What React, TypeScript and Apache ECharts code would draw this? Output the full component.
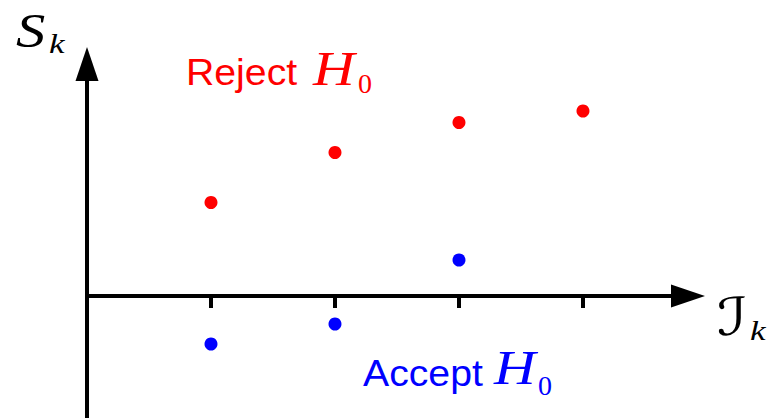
import React, { useEffect, useRef } from "react";
import * as echarts from "echarts";

// Stage index k (information level) and the test statistic at each look
const rejectX = [1, 2, 3, 4];
const rejectS = [1.87, 2.87, 3.47, 3.7];
const acceptX = [1, 2, 3];
const acceptS = [-0.96, -0.56, 0.72];
const tickValues = [1, 2, 3, 4];

const RED = "#ff0000";
const BLUE = "#0000ff";
const MATH = "'Liberation Serif', 'DejaVu Serif', serif";
const SANS = "'Liberation Sans', Arial, sans-serif";

type Txt = { text: string; x: number; y: number; font: string; fill: string; sx?: number };
const label = ({ text, x, y, font, fill, sx = 1 }: Txt) => ({
  type: "text",
  x,
  y,
  scaleX: sx,
  style: { text, font, fill, verticalAlign: "middle" },
});

export default function App() {
  const ref = useRef<HTMLDivElement>(null);

  useEffect(() => {
    document.body.style.margin = "0";
    const chart = echarts.init(ref.current!, null, { renderer: "svg" });
    const axisLine = {
      show: true,
      onZero: true,
      symbol: ["none", "triangle"],
      symbolSize: [23, 34],
      lineStyle: { color: "#000", width: 4 },
    };
    chart.setOption({
      animation: false,
      backgroundColor: "#fff",
      grid: { left: 87, right: 80, top: 64, bottom: 0, containLabel: false },
      xAxis: {
        type: "value",
        min: 0,
        max: 4.847,
        axisLine,
        axisTick: {
          show: true,
          customValues: tickValues,
          length: 12,
          lineStyle: { color: "#000", width: 4 },
        },
        axisLabel: { show: false },
        splitLine: { show: false },
      },
      yAxis: {
        type: "value",
        min: -2.44,
        max: 4.64,
        axisLine,
        axisTick: { show: false },
        axisLabel: { show: false },
        splitLine: { show: false },
      },
      series: [
        {
          type: "scatter",
          name: "Reject",
          symbolSize: 13,
          itemStyle: { color: RED, opacity: 1 },
          data: rejectX.map((x, i) => [x, rejectS[i]]),
        },
        {
          type: "scatter",
          name: "Accept",
          symbolSize: 13,
          itemStyle: { color: BLUE, opacity: 1 },
          data: acceptX.map((x, i) => [x, acceptS[i]]),
        },
      ],
      graphic: [
        // y-axis label S_k
        label({ text: "S", x: 16, y: 31, font: `italic 48px ${MATH}`, fill: "#000", sx: 1.22 }),
        label({ text: "k", x: 49, y: 44, font: `italic 27px ${MATH}`, fill: "#000", sx: 1.3 }),
        // x-axis label ℐ_k
        label({ text: "\u2110", x: 717, y: 317, font: `52px 'DejaVu Serif', 'DejaVu Sans', serif`, fill: "#000", sx: 1.25 }),
        label({ text: "k", x: 750, y: 331, font: `italic 27px ${MATH}`, fill: "#000", sx: 1.3 }),
        // region labels
        label({ text: "Reject", x: 186, y: 72, font: `37px ${SANS}`, fill: RED, sx: 1.06 }),
        label({ text: "H", x: 313, y: 69, font: `italic 48px ${MATH}`, fill: RED, sx: 1.2 }),
        label({ text: "0", x: 358, y: 83, font: `28px ${MATH}`, fill: RED }),
        label({ text: "Accept", x: 363, y: 373, font: `37px ${SANS}`, fill: BLUE, sx: 1.06 }),
        label({ text: "H", x: 494, y: 368, font: `italic 48px ${MATH}`, fill: BLUE, sx: 1.2 }),
        label({ text: "0", x: 538, y: 385, font: `28px ${MATH}`, fill: BLUE }),
      ],
    });
    return () => chart.dispose();
  }, []);

  return <div ref={ref} style={{ width: 768, height: 418 }} />;
}
